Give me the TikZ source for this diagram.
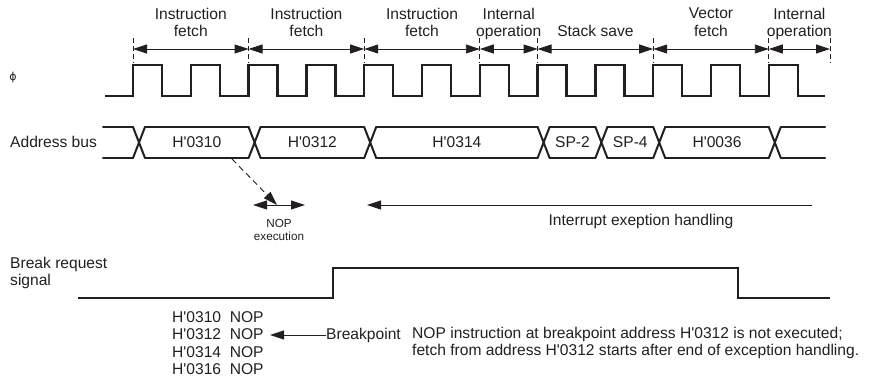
\documentclass[tikz,border=0pt]{standalone}
\usepackage{fontspec}
\newfontfamily\diagfont{Liberation Sans}
\newfontfamily\symfont{DejaVu Sans}
\usetikzlibrary{arrows.meta,positioning,calc}
\definecolor{ink}{RGB}{35,31,32}

\tikzset{
  lbl/.style={font=\diagfont\fontsize{15.6}{17.3}\selectfont,text=ink,inner sep=0pt},
  lblsmall/.style={font=\diagfont\fontsize{11.7}{13}\selectfont,text=ink,inner sep=0pt},
  wave/.style={line width=2.4pt,draw=ink,line join=miter},
  bus/.style={line width=2pt,draw=ink,line cap=round},
  tickmark/.style={line width=0.8pt,draw=ink,dash pattern=on 5pt off 3pt},
  tip/.style={-{Triangle[length=14pt,width=9pt]}},
  span/.style={line width=0.9pt,draw=ink,
    {Triangle[length=14pt,width=9pt]}-{Triangle[length=14pt,width=9pt]}},
  thin/.style={line width=0.9pt,draw=ink},
}

\begin{document}
\begin{tikzpicture}[x=1pt,y=-1pt]
  \useasboundingbox (0,0) rectangle (875,380);

  % bus cycles along the top
  \foreach \n/\x in {0/133,1/248.6,2/364.2,3/479.8,4/537.6,5/653.2,6/768.8,7/830}{
    \coordinate (t\n) at (\x,49);
    \draw[tickmark] (\x,38) -- (\x,63);
  }
  \foreach \a/\b in {0/1,1/2,2/3,3/4,4/5,5/6,6/7}
    \draw[span] (t\a) -- (t\b);

  \node[lbl,align=center,anchor=north] (cyc1) at ($(t0)!.5!(t1)+(0,-41)$) {Instruction\\fetch};
  \node[lbl,align=center,anchor=north] (cyc2) at ($(t1)!.5!(t2)+(0,-41)$) {Instruction\\fetch};
  \node[lbl,align=center,anchor=north] (cyc3) at ($(t2)!.5!(t3)+(0,-41)$) {Instruction\\fetch};
  \node[lbl,align=center,anchor=north] (cyc4) at ($(t3)!.5!(t4)+(0,-41)$) {Internal\\operation};
  \node[lbl,anchor=north] (cyc5) at ($(t4)!.5!(t5)+(0,-24)$) {Stack save};
  \node[lbl,align=center,anchor=north] (cyc6) at ($(t5)!.5!(t6)+(0,-41)$) {Vector\\fetch};
  \node[lbl,align=center,anchor=north] (cyc7) at ($(t6)!.5!(t7)+(0,-41)$) {Internal\\operation};

  % clock
  \node[lblsmall,font=\symfont\fontsize{11}{13}\selectfont] (phi) at (13,77) {ϕ};
  \draw[wave] (105,96) foreach \k in {0,...,11}{
      -- ({133+57.8*\k},96) -- ({133+57.8*\k},65)
      -- ({162+57.8*\k},65) -- ({162+57.8*\k},96)} -- (825,96);

  % address bus
  \node[lbl,anchor=west] (addr) at (10,142) {Address bus};
  \foreach \c in {133,248.6,364.2,537.6,595.4,653.2,768.8}
    \draw[bus] (\c,127) -- ++(12,31) (\c,158) -- ++(12,-31);
  \foreach \a/\b in {103/133,145/248.6,260.6/364.2,376.2/537.6,549.6/595.4,
                     607.4/653.2,665.2/768.8,780.8/825}
    \draw[bus] (\a,127) -- (\b,127) (\a,158) -- (\b,158);
  \node[lbl] (a310) at (196.8,142) {H'0310};
  \node[lbl] (a312) at (312.4,142) {H'0312};
  \node[lbl] (a314) at (456.9,142) {H'0314};
  \node[lbl] (sp2) at (572.5,142) {SP-2};
  \node[lbl] (sp4) at (630.3,142) {SP-4};
  \node[lbl] (a036) at (717,142) {H'0036};

  % NOP execution
  \coordinate (nopfrom) at (232,159);
  \coordinate (nopto) at (277,205);
  \draw[thin,tip,dash pattern=on 6pt off 4pt] (nopfrom) -- (nopto);
  \coordinate (ex0) at (253,205);
  \coordinate (ex1) at (305,205);
  \draw[span] (ex0) -- (ex1);
  \node[lblsmall,align=center,anchor=north] (exlbl) at (279,219) {NOP\\execution};

  % exception handling
  \coordinate (ih0) at (812,205);
  \coordinate (ih1) at (367,205);
  \draw[thin,tip] (ih0) -- (ih1);
  \node[lbl] (ihlbl) at (641,221) {Interrupt exeption handling};

  % break request
  \node[lbl,align=left,anchor=west] (brk) at (10,273) {Break request\\signal};
  \draw[wave] (78,298) -- (333,298) -- (333,268) -- (738,268) -- (738,298) -- (830,298);

  % program and note
  \node[lbl,align=left,anchor=north west] (prog) at (172,311.5)
    {H'0310~~NOP\\H'0312~~NOP\\H'0314~~NOP\\H'0316~~NOP};
  \node[lbl,anchor=west] (bp) at (326,335) {Breakpoint};
  \coordinate (bptip) at (270,335);
  \draw[thin,tip] (bp.west) -- (bptip);
  \node[lbl,align=left,anchor=west] (note) at (412,343)
    {NOP instruction at breakpoint address H'0312 is not executed;\\
     fetch from address H'0312 starts after end of exception handling.};
\end{tikzpicture}
\end{document}
